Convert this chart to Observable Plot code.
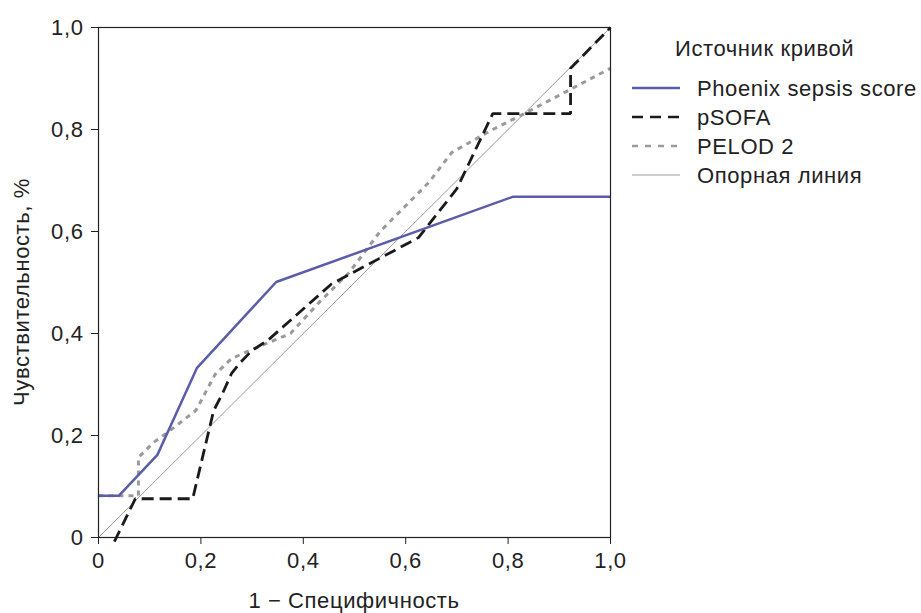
<!DOCTYPE html>
<html><head><meta charset="utf-8">
<script src="https://cdn.jsdelivr.net/npm/d3@7"></script>
<script src="https://cdn.jsdelivr.net/npm/@observablehq/plot@0.6"></script>
<style>
body{margin:0;background:#fff;}
#wrap{position:relative;width:921px;height:613px;overflow:hidden;font-family:"Liberation Sans",Arial,sans-serif;}
#legend{position:absolute;left:0;top:0;}
</style></head><body><div id="wrap"></div>
<script>
// ---- data ----
const seriesNames = ["Phoenix sepsis score", "pSOFA", "PELOD 2", "Опорная линия"];
const phoenixX = [0, 0.04, 0.115, 0.192, 0.347, 0.809, 1.0];
const phoenixY = [0.082, 0.082, 0.162, 0.332, 0.501, 0.668, 0.668];
const psofaX = [0.031, 0.072, 0.184, 0.205, 0.225, 0.242, 0.26, 0.275, 0.30, 0.33, 0.455, 0.625, 0.70, 0.77, 0.922, 0.922, 1.0];
const psofaY = [-0.008, 0.076, 0.076, 0.165, 0.249, 0.282, 0.322, 0.341, 0.367, 0.386, 0.497, 0.588, 0.684, 0.831, 0.831, 0.92, 1.0];
const pelodX = [0, 0.078, 0.078, 0.092, 0.107, 0.135, 0.19, 0.228, 0.26, 0.31, 0.375, 0.43, 0.49, 0.55, 0.645, 0.69, 0.77, 0.82, 1.0];
const pelodY = [0.082, 0.082, 0.157, 0.171, 0.186, 0.206, 0.249, 0.32, 0.351, 0.373, 0.40, 0.46, 0.52, 0.60, 0.696, 0.755, 0.80, 0.825, 0.92];
const refX = [0, 1];
const refY = [0, 1];
const xTicks = [0, 0.2, 0.4, 0.6, 0.8, 1.0];
const yTicks = [0, 0.2, 0.4, 0.6, 0.8, 1.0];
const xLabel = "1 − Специфичность";
const yLabel = "Чувствительность, %";
const legendTitle = "Источник кривой";

// ---- styles ----
const colors = ["#5a5da8", "#1a1a1a", "#9a9a9a", "#9a9a9a"];
const widths = [2.5, 2.8, 3, 1];
const dashes = [null, "12,6", "5,5", null];

const toRows = (name, xs, ys) => xs.map((x, i) => ({series: name, x, y: ys[i]}));
const rows = [
  toRows(seriesNames[0], phoenixX, phoenixY),
  toRows(seriesNames[1], psofaX, psofaY),
  toRows(seriesNames[2], pelodX, pelodY),
  toRows(seriesNames[3], refX, refY)
];
const fmt = d => d === 0 ? "0" : d.toFixed(1).replace(".", ",");
const lineOpts = i => ({x: "x", y: "y", stroke: colors[i], strokeWidth: widths[i], strokeDasharray: dashes[i] || undefined, strokeLinecap: "butt", strokeLinejoin: "miter"});

const plot = Plot.plot({
  width: 921, height: 613,
  marginLeft: 98, marginRight: 311, marginTop: 27, marginBottom: 76,
  style: {fontFamily: "'Liberation Sans', Arial, sans-serif", fontSize: "22px", letterSpacing: "0.6px", color: "#222", background: "#fff"},
  x: {domain: [0, 1]},
  y: {domain: [0, 1]},
  marks: [
    Plot.line(rows[3], lineOpts(3)),
    Plot.line(rows[2], lineOpts(2)),
    Plot.line(rows[1], lineOpts(1)),
    Plot.line(rows[0], lineOpts(0)),
    Plot.frame({stroke: "#222", strokeWidth: 1.2}),
    Plot.axisX(xTicks, {tickSize: 7, tickPadding: 8, tickFormat: fmt, label: null, stroke: "#222"}),
    Plot.axisY(yTicks, {tickSize: 7, tickPadding: 8, tickFormat: fmt, label: null, stroke: "#222"})
  ]
});
const wrap = document.getElementById("wrap");
wrap.appendChild(plot);

// ---- axis titles + legend ----
const xr = plot.scale("x").range, yr = plot.scale("y").range;
const xMid = (xr[0] + xr[1]) / 2, yMid = (yr[0] + yr[1]) / 2;
const leg = d3.select(wrap).append("svg").attr("id", "legend").attr("width", 921).attr("height", 613)
  .style("font-family", "'Liberation Sans', Arial, sans-serif").style("font-size", "22px").style("letter-spacing", "0.6px");
leg.append("text").attr("x", xMid).attr("y", 600).attr("dy", "0.35em").attr("text-anchor", "middle").attr("fill", "#222").text(xLabel);
leg.append("text").attr("transform", `translate(21,${yMid + 10}) rotate(-90)`).attr("dy", "0.35em").attr("text-anchor", "middle").attr("fill", "#222").text(yLabel);
leg.append("text").attr("x", 675).attr("y", 48).attr("dy", "0.35em").attr("fill", "#222").text(legendTitle);
seriesNames.forEach((name, i) => {
  const cy = 88 + i * 29;
  leg.append("line").attr("x1", 632).attr("x2", 680).attr("y1", cy).attr("y2", cy)
    .attr("stroke", colors[i]).attr("stroke-width", i === 3 ? 1 : 2.6)
    .attr("stroke-dasharray", i === 1 ? "11,7" : (i === 2 ? "6,7" : null));
  leg.append("text").attr("x", 697).attr("y", cy).attr("dy", "0.35em").attr("fill", "#222").text(name);
});
</script>
</body></html>
